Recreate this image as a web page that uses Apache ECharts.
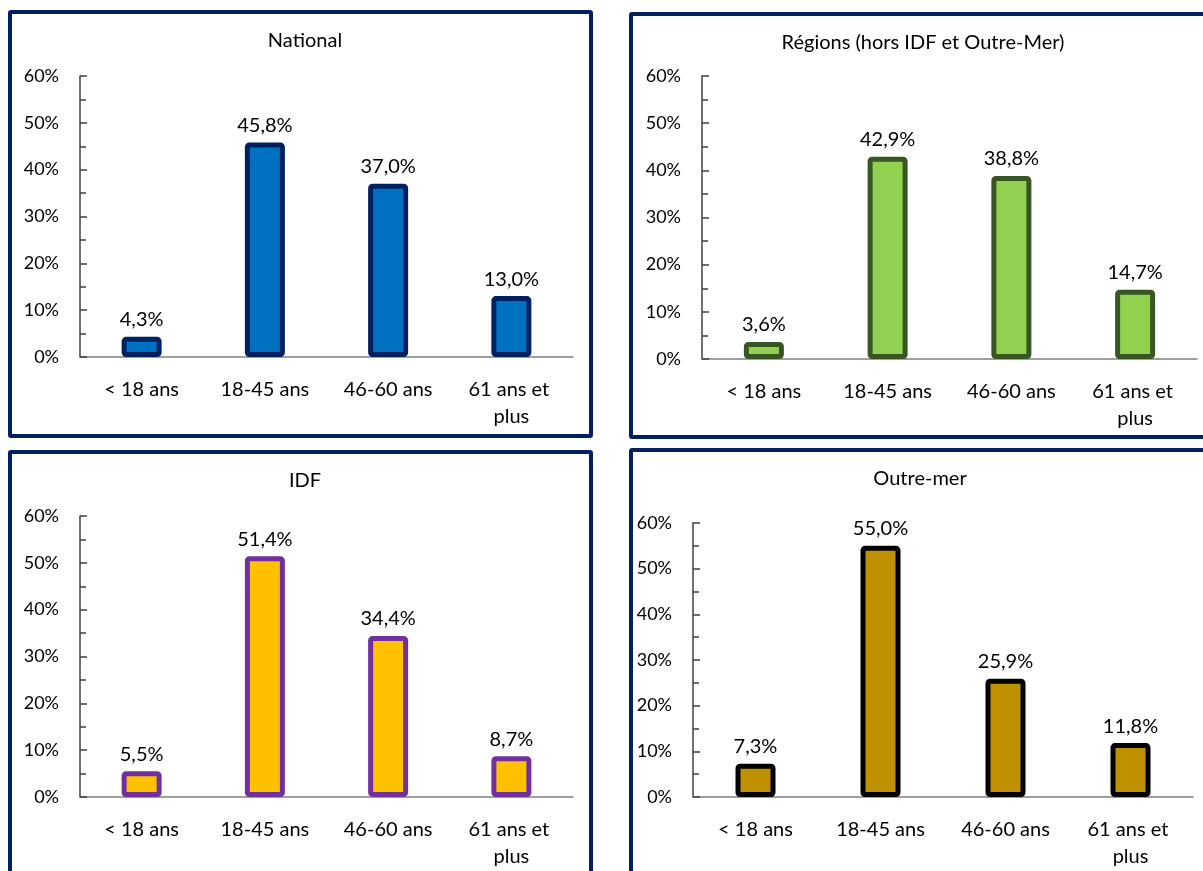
<!DOCTYPE html>
<html>
<head>
<meta charset="utf-8">
<script src="https://cdn.jsdelivr.net/npm/echarts@6/dist/echarts.min.js"></script>
<style>
  html, body { margin: 0; padding: 0; background: #fff; width: 1203px; height: 871px; overflow: hidden; }
  .panel { position: absolute; box-sizing: border-box; border: 4px solid #002060; border-radius: 3px; background: #fff; }
</style>
</head>
<body>
<div id="p1" class="panel" style="left:8px;top:10px;width:585px;height:428px"></div>
<div id="p2" class="panel" style="left:629px;top:12px;width:600px;height:427px"></div>
<div id="p3" class="panel" style="left:8px;top:450px;width:585px;height:450px"></div>
<div id="p4" class="panel" style="left:629px;top:448px;width:600px;height:450px"></div>
<script>
// tranches d'age
var categories = ['< 18 ans', '18-45 ans', '46-60 ans', '61 ans et plus'];

// parts en %
var national = [4.3, 45.8, 37.0, 13.0];
var regions = [3.6, 42.9, 38.8, 14.7];
var idf = [5.5, 51.4, 34.4, 8.7];
var outreMer = [7.3, 55.0, 25.9, 11.8];

var FONT = 'Lato';

function makeChart(id, title, data, fill, stroke, grid, titleX) {
  var chart = echarts.init(document.getElementById(id), null, { renderer: 'canvas' });
  var option = {
    animation: false,
    title: {
      text: title,
      left: titleX,
      top: 12,
      textAlign: 'center',
      textStyle: { fontFamily: FONT, fontSize: 20, fontWeight: 'normal', color: '#000' }
    },
    grid: grid,
    xAxis: {
      type: 'category',
      data: categories,
      axisLine: { lineStyle: { color: '#808080', width: 1.5 } },
      axisTick: { show: false },
      axisLabel: {
        interval: 0,
        margin: 19,
        width: 105,
        overflow: 'break',
        lineHeight: 27,
        color: '#000',
        fontFamily: FONT,
        fontSize: 20
      }
    },
    yAxis: {
      type: 'value',
      min: 0,
      max: 60,
      interval: 10,
      axisLine: { show: true, lineStyle: { color: '#404040', width: 1.5 } },
      axisTick: { show: true, inside: true, length: 7, lineStyle: { color: '#404040', width: 1.5 } },
      minorTick: { show: true, splitNumber: 2, length: 6, lineStyle: { color: '#404040', width: 1.5 } },
      splitLine: { show: false },
      axisLabel: {
        margin: 21,
        color: '#000',
        fontFamily: FONT,
        fontSize: 18,
        formatter: '{value}%'
      }
    },
    series: [{
      type: 'bar',
      data: data,
      barWidth: 40,
      itemStyle: { color: fill, borderColor: stroke, borderWidth: 5, borderRadius: 2 },
      label: {
        show: true,
        position: 'top',
        distance: 7,
        color: '#000',
        fontFamily: FONT,
        fontSize: 20,
        formatter: function (p) {
          return p.value.toFixed(1).replace('.', ',') + '%';
        }
      }
    }]
  };
  chart.setOption(option);
  return chart;
}

makeChart('p1', 'National', national, '#0070C0', '#002060',
  { left: 68, top: 62, right: 16, bottom: 77 }, 288);
makeChart('p2', 'Régions (hors IDF et Outre-Mer)', regions, '#92D050', '#375623',
  { left: 69, top: 60, right: 28, bottom: 76 }, 285);
makeChart('p3', 'IDF', idf, '#FFC000', '#7030A0',
  { left: 68, top: 62, right: 16, bottom: 99 }, 288);
makeChart('p4', 'Outre-mer', outreMer, '#BF9000', '#000000',
  { left: 60, top: 71, right: 32, bottom: 97 }, 282);
</script>
</body>
</html>
